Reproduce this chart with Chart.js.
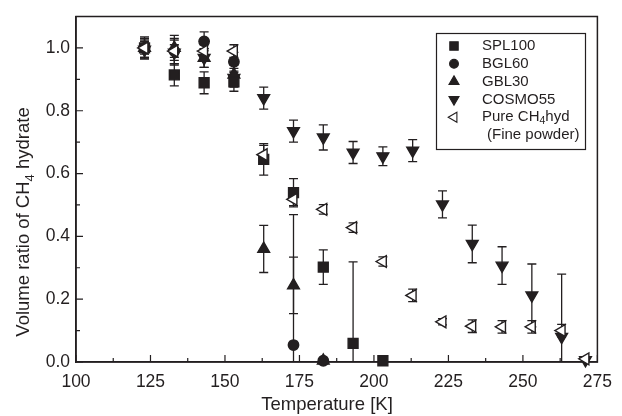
<!DOCTYPE html>
<html>
<head>
<meta charset="utf-8">
<script src="https://cdn.jsdelivr.net/npm/chart.js@4.4.1/dist/chart.umd.min.js"></script>
<style>
  html, body { margin: 0; padding: 0; background: #fff; }
</style>
</head>
<body>
<canvas id="chart" width="622" height="416"></canvas>
<script>
// measurement temperatures [K]
const temps = [123, 133, 143, 153, 163, 173, 183, 193, 203, 213, 223, 233, 243, 253, 263, 271];

// volume ratio of CH4 hydrate, null = not measured
const spl100    = [1.0, 0.914, 0.889, 0.892, 0.645, 0.539, 0.302, 0.059, 0.004, null, null, null, null, null, null, null];
const spl100Err = [0.035, 0.035, 0.035, 0.03, 0.05, 0.045, 0.055, 0.26, 0, null, null, null, null, null, null, null];

const bgl60     = [1.0, 0.99, 1.021, 0.956, null, 0.054, 0.004, null, null, null, null, null, null, null, null, null];
const bgl60Err  = [0.03, 0.04, 0.03, 0.03, null, 0.415, 0, null, null, null, null, null, null, null, null, null];

const gbl30     = [1.0, 1.0, 0.968, 0.915, 0.36, 0.244, 0.004, null, null, null, null, null, null, null, null, null];
const gbl30Err  = [0.03, 0.04, 0.03, 0.03, 0.075, 0.09, 0, null, null, null, null, null, null, null, null, null];

const cosmo55    = [0.995, 0.985, 0.968, 0.905, 0.84, 0.735, 0.715, 0.667, 0.655, 0.673, 0.502, 0.376, 0.307, 0.212, 0.08, 0.006];
const cosmo55Err = [0.03, 0.04, 0.03, 0.03, 0.035, 0.035, 0.04, 0.035, 0.03, 0.035, 0.043, 0.06, 0.06, 0.1, 0.2, 0];

const pureHyd    = [1.0, 0.99, 0.99, 0.99, 0.66, 0.518, 0.486, 0.428, 0.32, 0.212, 0.128, 0.114, 0.112, 0.112, 0.1, 0.01];
const pureHydErr = [0.02, 0.02, 0.02, 0.02, 0.03, 0.02, 0.015, 0.015, 0.015, 0.02, 0.01, 0.02, 0.02, 0.02, 0.02, 0];

const xTicks = [100, 125, 150, 175, 200, 225, 250, 275];
const xMinorTicks = [112.5, 137.5, 162.5, 187.5, 212.5, 237.5, 262.5];
const yTicks = [0, 0.2, 0.4, 0.6, 0.8, 1.0];
const yMinorTicks = [0.1, 0.3, 0.5, 0.7, 0.9];

const INK = '#231f20';
const FONT = "'Liberation Sans', Arial, sans-serif";

const series = [
  { label: 'SPL100', values: spl100, errors: spl100Err, style: 'rect', rotation: 0, radius: 7, fill: INK, order: 1 },
  { label: 'BGL60', values: bgl60, errors: bgl60Err, style: 'circle', rotation: 0, radius: 5.2, fill: INK, order: 2 },
  { label: 'GBL30', values: gbl30, errors: gbl30Err, style: 'triangle', rotation: 0, radius: 6.8, fill: INK, order: 3 },
  { label: 'COSMO55', values: cosmo55, errors: cosmo55Err, style: 'triangle', rotation: 180, radius: 6.8, fill: INK, order: 4 },
  { label: 'Pure CH4hyd', values: pureHyd, errors: pureHydErr, style: 'triangle', rotation: -90, radius: 6.8, fill: '#fff', order: 0 }
];

const datasets = series.map(s => ({
  label: s.label,
  data: temps.map((t, i) => ({ x: t, y: s.values[i], err: s.errors[i] })).filter(p => p.y !== null),
  showLine: false,
  pointStyle: s.style,
  pointRotation: s.rotation,
  pointRadius: s.radius,
  pointBackgroundColor: s.fill,
  pointBorderColor: INK,
  pointBorderWidth: 1.4,
  order: s.order,
  clip: false
}));

// error bars, drawn below the markers
const errorBars = {
  id: 'errorBars',
  beforeDatasetsDraw(chart) {
    const { ctx, chartArea, scales: { x, y } } = chart;
    ctx.save();
    ctx.beginPath();
    ctx.rect(chartArea.left, chartArea.top, chartArea.width, chartArea.height);
    ctx.clip();
    ctx.strokeStyle = INK;
    ctx.lineWidth = 1.3;
    chart.data.datasets.forEach(ds => {
      ds.data.forEach(p => {
        if (!p.err) return;
        const px = x.getPixelForValue(p.x);
        const top = y.getPixelForValue(p.y + p.err);
        const bot = y.getPixelForValue(p.y - p.err);
        ctx.beginPath();
        ctx.moveTo(px, top); ctx.lineTo(px, bot);
        ctx.moveTo(px - 4.5, top); ctx.lineTo(px + 4.5, top);
        ctx.moveTo(px - 4.5, bot); ctx.lineTo(px + 4.5, bot);
        ctx.stroke();
      });
    });
    ctx.restore();
  }
};

// frame, inward ticks, axis titles
const frame = {
  id: 'frame',
  beforeDatasetsDraw(chart) {
    const { ctx, chartArea: a, scales: { x, y } } = chart;
    ctx.save();
    ctx.strokeStyle = INK;
    ctx.lineWidth = 1.5;
    ctx.strokeRect(a.left, a.top, a.right - a.left, a.bottom - a.top);
    ctx.lineWidth = 1.2;
    ctx.beginPath();
    xTicks.forEach(v => { const px = x.getPixelForValue(v); ctx.moveTo(px, a.bottom); ctx.lineTo(px, a.bottom - 7); });
    xMinorTicks.forEach(v => { const px = x.getPixelForValue(v); ctx.moveTo(px, a.bottom); ctx.lineTo(px, a.bottom - 4); });
    yTicks.forEach(v => { const py = y.getPixelForValue(v); ctx.moveTo(a.left, py); ctx.lineTo(a.left + 7, py); });
    yMinorTicks.forEach(v => { const py = y.getPixelForValue(v); ctx.moveTo(a.left, py); ctx.lineTo(a.left + 4, py); });
    ctx.stroke();
    ctx.restore();
  },
  afterDraw(chart) {
    const { ctx, chartArea: a } = chart;
    ctx.save();
    ctx.fillStyle = INK;
    ctx.textBaseline = 'alphabetic';

    // x title
    ctx.font = '18.5px ' + FONT;
    ctx.textAlign = 'center';
    ctx.fillText('Temperature [K]', a.left + 251, 410);

    // y title with subscript
    const parts = [['Volume ratio of CH', 18.5, 0], ['4', 13, 5], [' hydrate', 18.5, 0]];
    let total = 0;
    parts.forEach(p => { ctx.font = p[1] + 'px ' + FONT; total += ctx.measureText(p[0]).width; });
    ctx.translate(29, 222);
    ctx.rotate(-Math.PI / 2);
    ctx.textAlign = 'left';
    let cx = -total / 2;
    parts.forEach(p => {
      ctx.font = p[1] + 'px ' + FONT;
      ctx.fillText(p[0], cx, p[2]);
      cx += ctx.measureText(p[0]).width;
    });
    ctx.restore();
  }
};

// boxed legend with marker symbols
const boxLegend = {
  id: 'boxLegend',
  afterDraw(chart) {
    const { ctx } = chart;
    const box = { left: 436, top: 33, right: 585, bottom: 149 };
    ctx.save();
    ctx.strokeStyle = INK;
    ctx.lineWidth = 1.2;
    ctx.strokeRect(box.left + 0.5, box.top + 0.5, box.right - box.left, box.bottom - box.top);
    ctx.fillStyle = INK;
    ctx.textBaseline = 'middle';
    ctx.textAlign = 'left';
    const rowH = 17.8;
    series.forEach((s, i) => {
      const cy = box.top + 13 + i * rowH;
      ctx.fillStyle = s.fill;
      ctx.strokeStyle = INK;
      ctx.lineWidth = 1.1;
      Chart.helpers.drawPoint(ctx, {
        pointStyle: s.style, rotation: s.rotation, radius: s.radius * 0.85, borderWidth: 1.1
      }, 454, cy);
      ctx.fillStyle = INK;
      if (s.label === 'Pure CH4hyd') {
        ctx.font = '15px ' + FONT;
        let tx = 482;
        ctx.fillText('Pure CH', tx, cy);
        tx += ctx.measureText('Pure CH').width;
        ctx.font = '10.5px ' + FONT;
        ctx.fillText('4', tx, cy + 4);
        tx += ctx.measureText('4').width;
        ctx.font = '15px ' + FONT;
        ctx.fillText('hyd', tx, cy);
        ctx.fillText('(Fine powder)', 487, cy + rowH);
      } else {
        ctx.font = '15px ' + FONT;
        ctx.fillText(s.label, 482, cy);
      }
    });
    ctx.restore();
  }
};

new Chart(document.getElementById('chart'), {
  type: 'scatter',
  data: { datasets },
  options: {
    responsive: false,
    devicePixelRatio: 1,
    animation: false,
    layout: { padding: { left: 0, right: 22, top: 15, bottom: 0 } },
    plugins: { legend: { display: false }, tooltip: { enabled: false } },
    scales: {
      x: {
        type: 'linear',
        min: 100,
        max: 275,
        grid: { display: false, drawTicks: false },
        border: { display: true, color: INK, width: 1.5 },
        ticks: { color: INK, padding: 10, font: { family: FONT, size: 17.5 } },
        afterBuildTicks: s => { s.ticks = xTicks.map(v => ({ value: v })); },
        afterFit: s => { s.height = 54; }
      },
      y: {
        type: 'linear',
        min: 0,
        max: 1.1,
        grid: { display: false, drawTicks: false },
        border: { display: true, color: INK, width: 1.5 },
        ticks: { color: INK, padding: 6, font: { family: FONT, size: 17.5 }, callback: v => v.toFixed(1) },
        afterBuildTicks: s => { s.ticks = yTicks.map(v => ({ value: v })); },
        afterFit: s => { s.width = 76; }
      }
    }
  },
  plugins: [errorBars, frame, boxLegend]
});
</script>
</body>
</html>
